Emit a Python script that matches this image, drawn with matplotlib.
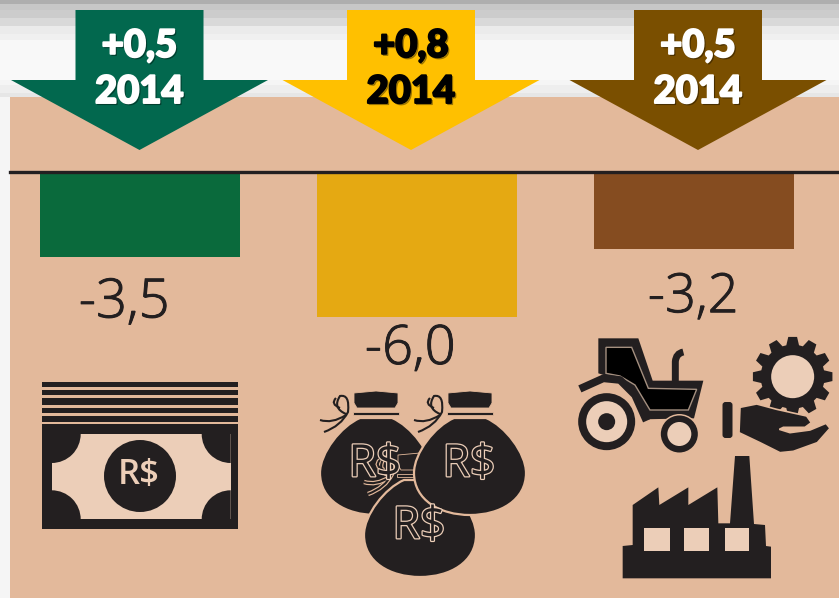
import numpy as np
import matplotlib
matplotlib.use('Agg')
import matplotlib.pyplot as plt
import matplotlib.patheffects as pe
from matplotlib.patches import Polygon, Circle, Rectangle, Wedge, PathPatch, FancyBboxPatch
from matplotlib.path import Path

# data
categories = ['Moeda', 'Investimento', 'Producao']
values = [-3.5, -6.0, -3.2]
value_labels = ['-3,5', '-6,0', '-3,2']
arrow_values = ['+0,5', '+0,8', '+0,5']
arrow_years = ['2014', '2014', '2014']

bar_colors = ['#0a6a3c', '#e5a912', '#854c20']
arrow_colors = ['#02684e', '#ffc000', '#7a4f00']
arrow_text = ['white', 'black', 'white']
arrow_x = [139.5, 411, 698]
label_gap = [47, 33, 49]
label_dx = [-16, -7, -1]

PEACH = '#e3b99b'
LIGHT = '#ecceb8'
DARK = '#231f20'
W, H = 839, 598
ZERO_Y, PX_PER_UNIT = 172, 24.2


def zp(pts, ox, oy):
    # points read on a 3x crop -> picture pixels
    return [(ox + x / 3, oy + y / 3) for x, y in pts]


def curve(pts):
    codes = [Path.MOVETO] + [Path.CURVE3] * (len(pts) - 1)
    return Path(pts, codes)


fig = plt.figure(figsize=(W / 100, H / 100), dpi=100)
ax = fig.add_axes([0, 0, 1, 1])
ax.axis('off')

# grey steps at the top of the page
band_y = [0, 4, 10, 18, 26, 34, 40, 60, 80, 85, 93, 97]
band_c = [0.68, 0.78, 0.80, 0.85, 0.92, 0.94, 0.97, 0.975, 0.96, 0.93, 0.90, 0.96]
rows = np.full(H, 0.96)
for k in range(len(band_y) - 1):
    rows[band_y[k]:band_y[k + 1]] = band_c[k]
ax.imshow(rows[:, None], cmap='gray', vmin=0, vmax=1, extent=(0, W, H, 0), aspect='auto',
          interpolation='nearest', zorder=0)
ax.set_xlim(0, W)
ax.set_ylim(H, 0)
ax.add_patch(Rectangle((10, 97), W - 10, H - 97, fc=PEACH, ec='none', zorder=1))

# bars, in value units
ax_bar = fig.add_axes([0, 0, 1, 1], zorder=2)
ax_bar.patch.set_alpha(0)
ax_bar.axis('off')
ax_bar.set_xlim((0 - 140) / 277, (W - 140) / 277)
ax_bar.set_ylim((ZERO_Y - H) / PX_PER_UNIT, ZERO_Y / PX_PER_UNIT)
pos = np.arange(len(values))
ax_bar.bar(pos, values, width=200.5 / 277, color=bar_colors)
ax_bar.axhline(0, color=DARK, lw=2.4, xmin=10 / W)
for i, v in enumerate(values):
    t = ax_bar.text(i + label_dx[i] / 277, v - label_gap[i] / PX_PER_UNIT, value_labels[i], ha='center', va='center',
                    fontsize=39, family='Open Sans', fontweight='light', color=DARK)
    t.set_path_effects([pe.withStroke(linewidth=0.7, foreground=DARK)])

# icons and arrows on top
ax2 = fig.add_axes([0, 0, 1, 1], zorder=3)
ax2.patch.set_alpha(0)
ax2.axis('off')
ax2.set_xlim(0, W)
ax2.set_ylim(H, 0)

for i, cx in enumerate(arrow_x):
    pts = [(cx - 64, 10), (cx + 64, 10), (cx + 64, 80), (cx + 128.5, 80), (cx, 150),
           (cx - 128.5, 80), (cx - 64, 80)]
    ax2.add_patch(Polygon(pts, closed=True, fc=arrow_colors[i], ec='none'))
    for txt, y in zip([arrow_values[i], arrow_years[i]], [46, 92]):
        t = ax2.text(cx, y, txt, ha='center', va='center', fontsize=27.5, family='Lato',
                     fontweight='black', color=arrow_text[i])
        t.set_path_effects([pe.SimpleLineShadow(offset=(1, -1), shadow_color='black', alpha=0.4, linewidth=1),
                            pe.withStroke(linewidth=1.4, foreground=arrow_text[i])])

# banknote
for y0, y1 in [(381.7, 387.3), (390, 395), (397.7, 405.3), (407.7, 413.3), (415.7, 421.7), (424, 529.3)]:
    ax2.add_patch(Rectangle((42, y0), 196, y1 - y0, fc=DARK, ec='none'))
ax2.add_patch(Rectangle((51.7, 434), 179, 85.3, fc=LIGHT, ec='none'))
for (x, y), a in zip([(51.7, 434), (230.7, 434), (230.7, 519.3), (51.7, 519.3)], [0, 90, 180, 270]):
    ax2.add_patch(Wedge((x, y), 29, a, a + 90, fc=DARK, ec='none'))
ax2.add_patch(Circle((140, 476), 36, fc=DARK, ec='none'))
ax2.text(139, 475, 'R$', ha='center', va='center', fontsize=25, family='Open Sans',
         fontweight='semibold', color=LIGHT)


def money_bag(cx, top):
    body = [(cx - 16, top),
            (cx - 35, top + 8), (cx - 56, top + 35), (cx - 56, top + 55),
            (cx - 56, top + 82), (cx - 30, top + 97), (cx, top + 97),
            (cx + 30, top + 97), (cx + 56, top + 82), (cx + 56, top + 55),
            (cx + 56, top + 35), (cx + 35, top + 8), (cx + 16, top),
            (cx, top)]
    codes = [Path.MOVETO] + [Path.CURVE4] * 12 + [Path.CLOSEPOLY]
    ax2.add_patch(PathPatch(Path(body, codes), fc=DARK, ec=PEACH, lw=1.6))
    ax2.add_patch(Rectangle((cx - 23, top - 6), 46, 3, fc=DARK, ec=PEACH, lw=0.6))
    knot = [(cx - 22, top - 25), (cx, top - 27), (cx + 22, top - 25), (cx + 22, top - 15), (cx + 19, top - 10),
            (cx - 19, top - 10), (cx - 22, top - 15)]
    ax2.add_patch(Polygon(knot, closed=True, fc=DARK, ec=PEACH, lw=0.6, joinstyle='round'))
    # string of the tie, loop and two tails
    tie = [[(cx - 52, top + 14), (cx - 35, top + 8), (cx - 28, top - 6), (cx - 26, top - 24), (cx - 36, top - 22),
            (cx - 44, top - 10), (cx - 30, top - 4)],
           [(cx - 56, top + 2), (cx - 44, top + 6), (cx - 30, top - 3)],
           [(cx - 40, top - 20), (cx - 46, top - 14), (cx - 36, top - 10)]]
    for seg in tie:
        ax2.add_patch(PathPatch(curve(seg), fc='none', ec=PEACH, lw=3.2))
    for seg in tie:
        ax2.add_patch(PathPatch(curve(seg), fc='none', ec=DARK, lw=1.5))
    t = ax2.text(cx - 1, top + 47, 'R$', ha='center', va='center', fontsize=32, family='Open Sans', color=DARK)
    t.set_path_effects([pe.withStroke(linewidth=1.8, foreground=LIGHT)])


for cx, top in [(376, 418), (420, 480), (470, 418)]:
    money_bag(cx, top)

# tractor
ox, oy = 570, 330
ax2.add_patch(Polygon(zp([(85, 25), (205, 25), (248, 152), (400, 152), (372, 265), (220, 268), (190, 190),
                          (150, 150), (85, 130)], ox, oy), closed=True, fc=DARK, ec='none'))
ax2.add_patch(Polygon(zp([(108, 52), (185, 52), (235, 175), (380, 178), (355, 240), (240, 240), (195, 165),
                          (150, 138), (108, 130)], ox, oy), closed=True, fc='black', ec='#a59080', lw=1))
ax2.plot(*zip(*zp([(40, 172), (100, 145), (150, 150), (195, 195), (225, 262)], ox, oy)), color=DARK, lw=5.5)
wheel = zp([(110, 275)], ox, oy)[0]
ax2.add_patch(Circle(wheel, 31, fc=PEACH, ec='none'))
ax2.add_patch(Circle(wheel, 28.5, fc=DARK, ec='none'))
ax2.add_patch(Circle(wheel, 20.5, fc=LIGHT, ec='none'))
ax2.add_patch(Circle(wheel, 8.5, fc=DARK, ec='none'))
small = zp([(328, 312)], ox, oy)[0]
ax2.add_patch(Circle(small, 20, fc=PEACH, ec='none'))
ax2.add_patch(Circle(small, 18.5, fc=DARK, ec='none'))
ax2.add_patch(Circle(small, 12, fc=LIGHT, ec='none'))
ax2.add_patch(PathPatch(curve(zp([(316, 155), (316, 115), (316, 95), (318, 70), (340, 66)], ox, oy)),
                        fc='none', ec=DARK, lw=5))

# gear
gx, gy = zp([(668, 140)], ox, oy)[0]
n_teeth = 12
step = 2 * np.pi / n_teeth
ang = np.concatenate([[k * step - 0.11, k * step + 0.11, k * step + 0.2, k * step + step - 0.2] for k in range(n_teeth)])
ang = ang + np.pi / 2
rad = np.tile([40, 40, 32, 32], n_teeth)
ax2.add_patch(Polygon(np.c_[gx + rad * np.cos(ang), gy + rad * np.sin(ang)], closed=True, fc=DARK, ec='none'))
ax2.add_patch(Circle((gx, gy), 21.5, fc=LIGHT, ec='none'))

# hand
ax2.add_patch(FancyBboxPatch((725.5, 405), 4, 30, boxstyle='round,pad=3', fc=DARK, ec='none'))
ax2.add_patch(Polygon(zp([(510, 232), (560, 222), (620, 238), (710, 258), (724, 278), (705, 292), (640, 292),
                          (628, 298), (660, 308), (720, 300), (768, 280), (780, 295), (742, 338), (670, 364),
                          (630, 368), (570, 338), (507, 308)], ox, oy), closed=True, fc=DARK, ec=PEACH, lw=1.2))

# factory
ax2.add_patch(Polygon(zp([(158, 745), (158, 648), (188, 645), (188, 525), (265, 472), (268, 525), (355, 472),
                          (355, 525), (442, 472), (445, 580), (480, 580), (495, 378), (538, 378), (552, 582),
                          (585, 585), (588, 648), (603, 650), (603, 745)], ox, oy), closed=True, fc=DARK, ec='none'))
for x0, x1 in [(223, 300), (343, 417), (464, 538)]:
    ax2.add_patch(Rectangle((ox + x0 / 3, oy + 593 / 3), (x1 - x0) / 3, 69 / 3, fc=LIGHT, ec='none'))

fig.savefig('out.png', dpi=100)
